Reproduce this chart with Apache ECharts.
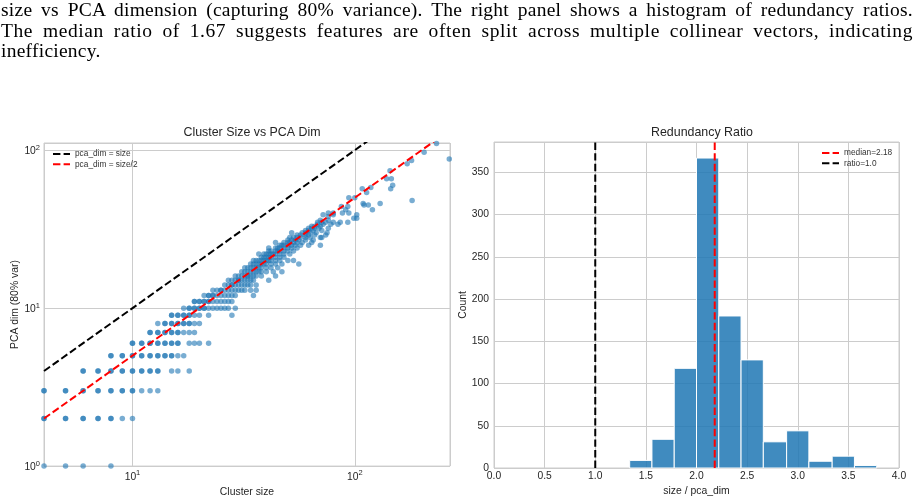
<!DOCTYPE html>
<html>
<head>
<meta charset="utf-8">
<script src="https://cdn.jsdelivr.net/npm/echarts@6.0.0/dist/echarts.min.js"></script>
<style>
  html, body { margin: 0; padding: 0; background: #fff; }
  #main { position: absolute; left: 0; top: 0; width: 918px; height: 502px; }
  #caption { position: absolute; left: 1px; top: 0; width: 912px; font-family: "Liberation Serif", serif; font-size: 19.5px; line-height: 20.5px; letter-spacing: 0.25px; color: #000; }
  #caption div { white-space: nowrap; text-align: justify; text-align-last: justify; }
  #caption div.wide { letter-spacing: 0.6px; }
  #caption div.last { text-align-last: left; }
</style>
</head>
<body>
<div id="main"></div>
<div id="caption">
  <div>size vs PCA dimension (capturing 80% variance). The right panel shows a histogram of redundancy ratios.</div>
  <div class="wide">The median ratio of 1.67 suggests features are often split across multiple collinear vectors, indicating</div>
  <div class="last">inefficiency.</div>
</div>
<script>
// cluster size vs pca dim (repeats = overlapping clusters)
var clusterPoints = [
  [4,1],[5,1],[6,1],[8,1],
  [4,2],[4,2],[5,2],[5,2],[6,2],[6,2],[7,2],[7,2],[8,2],[8,2],[9,2],[10,2],
  [4,3],[4,3],[5,3],[5,3],[6,3],[6,3],[7,3],[7,3],[8,3],[8,3],[9,3],[9,3],[10,3],[10,3],[11,3],[12,3],[13,3],
  [6,4],[6,4],[7,4],[7,4],[8,4],[8,4],[9,4],[9,4],[10,4],[10,4],[11,4],[11,4],[12,4],[12,4],[13,4],[13,4],[15,4],[16,4],[18,4],
  [8,5],[8,5],[9,5],[9,5],[10,5],[10,5],[11,5],[11,5],[12,5],[12,5],[13,5],[13,5],[14,5],[14,5],[15,5],[15,5],[16,5],[17,5],
  [10,6],[10,6],[11,6],[11,6],[12,6],[12,6],[13,6],[13,6],[14,6],[14,6],[15,6],[15,6],[16,6],[16,6],[18,6],[19,6],[20,6],[22,6],
  [12,7],[12,7],[13,7],[13,7],[14,7],[14,7],[15,7],[15,7],[16,7],[16,7],[17,7],[18,7],[19,7],
  [13,8],[14,8],[14,8],[15,8],[15,8],[16,8],[16,8],[17,8],[17,8],[18,8],[18,8],[19,8],[20,8],
  [15,9],[15,9],[16,9],[16,9],[17,9],[17,9],[18,9],[18,9],[19,9],[20,9],[22,9],[28,9],
  [17,10],[18,10],[18,10],[19,10],[19,10],[20,10],[20,10],[21,10],[21,10],[22,10],[23,10],[24,10],[25,10],[26,10],[27,10],[29,10],
  [19,11],[19,11],[20,11],[20,11],[21,11],[21,11],[22,11],[22,11],[23,11],[24,11],[25,11],[26,11],[27,11],[28,11],
  [21,12],[22,12],[22,12],[23,12],[23,12],[24,12],[25,12],[26,12],[27,12],[28,12],[29,12],[35,12],
  [23,13],[24,13],[25,13],[25,13],[26,13],[27,13],[28,13],[29,13],[30,13],[31,13],[32,13],[34,13],[36,13],
  [26,14],[27,14],[28,14],[28,14],[29,14],[30,14],[31,14],[32,14],[33,14],[34,14],[36,14],
  [27,15],[28,15],[29,15],[30,15],[30,15],[31,15],[32,15],[33,15],[34,15],[35,15],[41,15],
  [29,16],[30,16],[31,16],[32,16],[33,16],[33,16],[34,16],[35,16],[36,16],[38,16],[44,16],
  [31,17],[32,17],[33,17],[34,17],[35,17],[36,17],[37,17],[38,17],[40,17],[43,17],[47,17],
  [32,18],[33,18],[34,18],[35,18],[36,18],[37,18],[38,18],[40,18],[42,18],[45,18],
  [34,19],[35,19],[36,19],[37,19],[38,19],[39,19],[40,19],[42,19],[44,19],[47,19],[56,19],
  [35,20],[36,20],[37,20],[38,20],[39,20],[40,20],[41,20],[42,20],[44,20],[46,20],[50,20],[53,20],
  [38,21],[39,21],[40,21],[41,21],[42,21],[44,21],[46,21],[48,21],
  [37,22],[39,22],[40,22],[41,22],[42,22],[43,22],[44,22],[46,22],[48,22],[51,22],
  [41,23],[42,23],[44,23],[45,23],[46,23],[48,23],[50,23],[53,23],
  [41,24],[44,24],[45,24],[46,24],[48,24],[50,24],[52,24],[55,24],
  [46,25],[47,25],[48,25],[50,25],[52,25],[54,25],[57,25],[62,25],[70,25],
  [44,26],[48,26],[50,26],[51,26],[53,26],[55,26],[58,26],[64,26],
  [50,27],[52,27],[54,27],[56,27],[60,27],[65,27],
  [51,28],[53,28],[55,28],[57,28],[60,28],[63,28],[70,28],[71,28],
  [55,29],[57,29],[60,29],[62,29],[66,29],[74,29],
  [52,30],[58,30],[60,30],[63,30],[67,30],[75,30],
  [60,31],[62,31],[65,31],[71,31],
  [62,32],[64,32],[66,32],[69,32],[76,32],
  [64,33],[66,33],[70,33],
  [68,34],[72,34],[78,34],[84,34],
  [68,35],[71,35],[74,35],[80,35],[86,35],[93,35],
  [70,36],[76,36],
  [99,37],[102,37],
  [76,38],
  [72,39],[80,39],[102,39],
  [76,40],[80,40],[88,40],[94,40],
  [91,42],[120,42],
  [87,44],[93,44],
  [110,45],[115,45],
  [109,46],[130,46],
  [181,48],
  [94,50],[100,50],
  [113,54],
  [108,57],[118,58],[145,57],
  [148,60],
  [139,66],[146,66],
  [144,74],
  [172,82],[180,86],
  [205,97],
  [266,88],
  [233,110]
];
var refLineX = [4, 270];

// histogram of size / pca_dim
var binEdges = [1.34, 1.56, 1.78, 2.00, 2.22, 2.44, 2.66, 2.89, 3.11, 3.34, 3.56, 3.78];
var binCounts = [9, 34, 118, 367, 180, 128, 31, 44, 8, 14, 3];
var medianRatio = 2.18;
var unitRatio = 1.0;
var countMax = 386;

var chart = echarts.init(document.getElementById('main'));

var font = 'Liberation Sans';
var textColor = '#262626';
var gridLine = { show: true, lineStyle: { color: '#cccccc', width: 1 } };
var dash = [7.4, 3.2];

function powLabel(v) {
  var e = Math.log10(v);
  if (Math.abs(e - Math.round(e)) > 1e-6) return '';
  return '{b|10}{s|' + Math.round(e) + '}';
}
var powRich = {
  b: { fontSize: 10.3, fontFamily: font, color: textColor, verticalAlign: 'bottom' },
  s: { fontSize: 7.5, fontFamily: font, color: textColor, verticalAlign: 'bottom', padding: [0, 0, 5, 0] }
};

var histData = binCounts.map(function (c, i) {
  return [binEdges[i], binEdges[i + 1], c];
});

var legendText = { fontFamily: font, fontSize: 8.3, color: '#333', lineHeight: 8 };
var nameText = { fontFamily: font, fontSize: 10.4, color: textColor };
var labelText = { fontFamily: font, fontSize: 10.3, color: textColor };
var legendBase = { orient: 'vertical', padding: 0, itemWidth: 17, itemHeight: 8, itemGap: 2.3,
  textStyle: legendText, itemStyle: { opacity: 0, borderWidth: 0 } };

var option = {
  animation: false,
  title: [
    { text: 'Cluster Size vs PCA Dim', left: 247, top: 122, textAlign: 'center',
      textStyle: { fontFamily: font, fontSize: 12.4, fontWeight: 'normal', color: textColor } },
    { text: 'Redundancy Ratio', left: 697, top: 122, textAlign: 'center',
      textStyle: { fontFamily: font, fontSize: 12.4, fontWeight: 'normal', color: textColor } }
  ],
  legend: [
    Object.assign({ data: ['pca_dim = size', 'pca_dim = size/2'], left: 52, top: 150 }, legendBase),
    Object.assign({ data: ['median=2.18', 'ratio=1.0'], left: 821, top: 149 }, legendBase)
  ],
  grid: [
    { left: 44, top: 143, width: 406, height: 325, show: true, borderColor: '#cccccc', borderWidth: 1 },
    { left: 494, top: 142, width: 405, height: 326, show: true, borderColor: '#cccccc', borderWidth: 1 }
  ],
  xAxis: [
    { type: 'log', logBase: 10, gridIndex: 0, min: 4, max: 268,
      name: 'Cluster size', nameLocation: 'middle', nameGap: 16, nameTextStyle: nameText,
      axisLine: { show: false }, axisTick: { show: false }, splitLine: gridLine,
      axisLabel: { formatter: powLabel, rich: powRich, margin: 3 } },
    { type: 'value', gridIndex: 1, min: 0, max: 4, interval: 0.5,
      name: 'size / pca_dim', nameLocation: 'middle', nameGap: 16, nameTextStyle: nameText,
      axisLine: { show: false }, axisTick: { show: false }, splitLine: gridLine,
      axisLabel: Object.assign({ margin: 3, formatter: function (v) { return v.toFixed(1); } }, labelText) }
  ],
  yAxis: [
    { type: 'log', logBase: 10, gridIndex: 0, min: 1, max: 111,
      name: 'PCA dim (80% var)', nameLocation: 'middle', nameGap: 24, nameTextStyle: nameText,
      axisLine: { show: false }, axisTick: { show: false }, splitLine: gridLine,
      axisLabel: { formatter: powLabel, rich: powRich, margin: 4 } },
    { type: 'value', gridIndex: 1, min: 0, max: countMax, interval: 50,
      name: 'Count', nameLocation: 'middle', nameGap: 25, nameTextStyle: nameText,
      axisLine: { show: false }, axisTick: { show: false }, splitLine: gridLine,
      axisLabel: Object.assign({ margin: 5, showMaxLabel: false }, labelText) }
  ],
  series: [
    { type: 'scatter', xAxisIndex: 0, yAxisIndex: 0, data: clusterPoints, symbolSize: 5.5,
      itemStyle: { color: '#1f77b4', opacity: 0.6 }, z: 2 },
    { name: 'pca_dim = size', type: 'line', xAxisIndex: 0, yAxisIndex: 0, symbol: 'none', color: '#000',
      data: refLineX.map(function (x) { return [x, x]; }),
      lineStyle: { color: '#000', width: 2, type: dash }, z: 3 },
    { name: 'pca_dim = size/2', type: 'line', xAxisIndex: 0, yAxisIndex: 0, symbol: 'none', color: '#ff0000',
      data: refLineX.map(function (x) { return [x, x / 2]; }),
      lineStyle: { color: '#ff0000', width: 2, type: dash }, z: 3 },
    { type: 'custom', xAxisIndex: 1, yAxisIndex: 1, data: histData, encode: { x: [0, 1], y: 2 },
      renderItem: function (params, api) {
        var p0 = api.coord([api.value(0), api.value(2)]);
        var p1 = api.coord([api.value(1), 0]);
        return { type: 'rect',
          shape: { x: p0[0], y: p0[1], width: p1[0] - p0[0], height: p1[1] - p0[1] },
          style: { fill: 'rgba(31,119,180,0.85)', stroke: '#ffffff', lineWidth: 1 } };
      }, z: 2 },
    { name: 'median=2.18', type: 'line', xAxisIndex: 1, yAxisIndex: 1, symbol: 'none', color: '#ff0000',
      data: [[medianRatio, 0], [medianRatio, countMax]],
      lineStyle: { color: '#ff0000', width: 2, type: dash }, z: 3 },
    { name: 'ratio=1.0', type: 'line', xAxisIndex: 1, yAxisIndex: 1, symbol: 'none', color: '#000',
      data: [[unitRatio, 0], [unitRatio, countMax]],
      lineStyle: { color: '#000', width: 2, type: dash }, z: 3 }
  ]
};

chart.setOption(option);
</script>
</body>
</html>
